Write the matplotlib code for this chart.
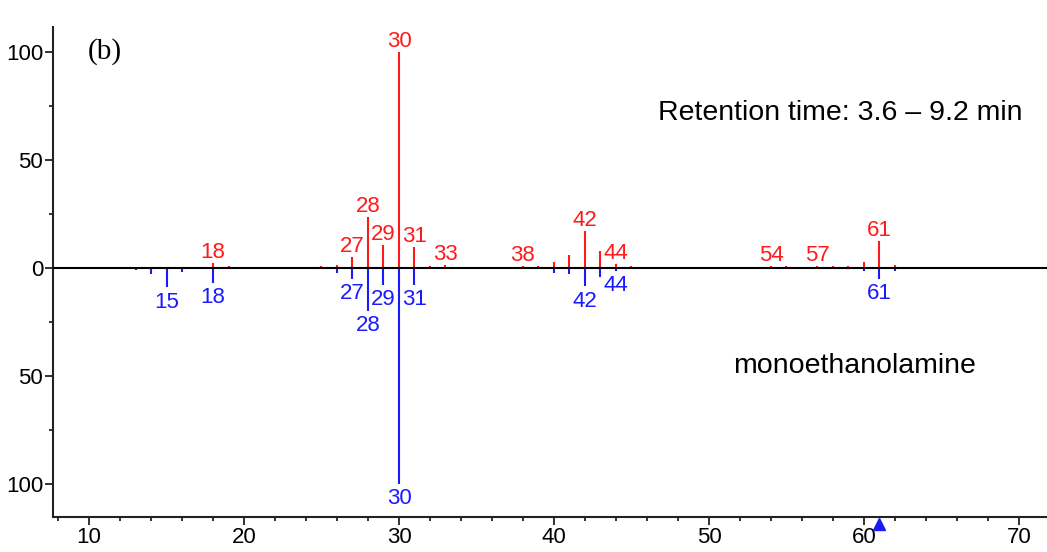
import matplotlib.pyplot as plt
from matplotlib.ticker import FuncFormatter, MultipleLocator
import matplotlib.transforms as mtransforms

# sample spectrum (upper, red) and library spectrum (lower, blue)
mz_top = [18, 19, 25, 26, 27, 28, 29, 30, 31, 32, 33, 38, 39, 40, 41, 42, 43, 44, 45,
          54, 55, 57, 58, 59, 60, 61, 62]
int_top = [2.3, 1, 1, 1.5, 5, 23.5, 10.5, 100, 9.6, 1, 1.2, 1, 1, 3, 5.9, 17, 7.7, 1.9, 1,
           1, 1, 1, 1, 1, 3, 12.4, 1.2]
labels_top = [18, 27, 28, 29, 30, 31, 33, 38, 42, 44, 54, 57, 61]

mz_bot = [13, 14, 15, 16, 18, 26, 27, 28, 29, 30, 31, 40, 41, 42, 43, 44, 60, 61, 62]
int_bot = [1, 3, 9, 2, 7, 2.3, 5, 20, 7.7, 100, 7.7, 2.3, 3, 8.5, 4.2, 1.2, 1.5, 5, 1.5]
labels_bot = [15, 18, 27, 28, 29, 30, 31, 42, 44, 61]

marker_mz = 61

red = "#ff1a1a"
blue = "#1a1aff"
num_font = ["Liberation Sans Narrow", "Liberation Sans", "DejaVu Sans"]

fig = plt.figure(figsize=(10.47, 5.52), dpi=100)
ax = fig.add_axes([0.0506, 0.0634, 0.9494, 0.8877])

ax.vlines(mz_top, 0, int_top, colors=red, linewidth=1.5)
ax.vlines(mz_bot, 0, [-v for v in int_bot], colors=blue, linewidth=1.5)
ax.axhline(0, color="black", linewidth=1.5, zorder=3)

for m, v in zip(mz_top, int_top):
    if m in labels_top:
        ax.annotate(str(m), (m, v), xytext=(0, 0), textcoords="offset points",
                    ha="center", va="bottom", color=red, fontsize=16, family=num_font)
for m, v in zip(mz_bot, int_bot):
    if m in labels_bot:
        ax.annotate(str(m), (m, -v), xytext=(0, -3), textcoords="offset points",
                    ha="center", va="top", color=blue, fontsize=16, family=num_font)

trans = mtransforms.blended_transform_factory(ax.transData, ax.transAxes)
ax.plot([marker_mz], [-0.015], marker="^", color=blue, markersize=9,
        transform=trans, clip_on=False, zorder=5)

fig.text(88 / 1047, 1 - 52 / 552, "(b)", ha="left", va="center",
         fontsize=21, family="Liberation Serif")
ax.text(0.975, 0.824, "Retention time: 3.6 – 9.2 min", transform=ax.transAxes,
        ha="right", va="center", fontsize=20.5, family="Liberation Sans")
ax.text(0.806, 0.308, "monoethanolamine", transform=ax.transAxes,
        ha="center", va="center", fontsize=20.5, family="Liberation Sans")

ax.set_xlim(7.675, 71.81)
ax.set_ylim(-115.5, 111.8)
ax.xaxis.set_major_locator(MultipleLocator(10))
ax.xaxis.set_minor_locator(MultipleLocator(2))
ax.yaxis.set_major_locator(MultipleLocator(50))
ax.yaxis.set_minor_locator(MultipleLocator(25))
ax.yaxis.set_major_formatter(FuncFormatter(lambda v, p: f"{abs(int(round(v)))}"))

for s in ["top", "right"]:
    ax.spines[s].set_visible(False)
for s in ["left", "bottom"]:
    ax.spines[s].set_linewidth(1.5)
    ax.spines[s].set_color("#222222")

ax.tick_params(which="major", length=6, width=1.3, color="#222222", labelsize=16, pad=1)
ax.tick_params(which="minor", length=3, width=1.3, color="#222222")
for lab in ax.get_xticklabels() + ax.get_yticklabels():
    lab.set_family(num_font)

fig.savefig("out.png", dpi=100)
